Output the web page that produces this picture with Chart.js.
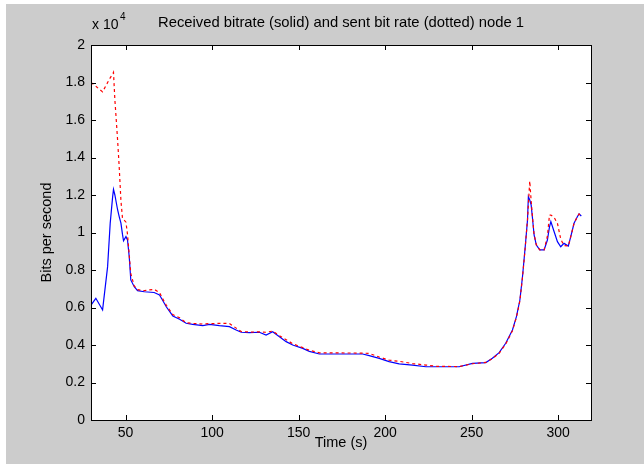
<!DOCTYPE html>
<html>
<head>
<meta charset="utf-8">
<script src="https://cdn.jsdelivr.net/npm/chart.js@4/dist/chart.umd.min.js"></script>
<style>
html,body{margin:0;padding:0;background:#fff;}
#wrap{width:644px;height:464px;position:relative;}
</style>
</head>
<body>
<div id="wrap"><canvas id="c" width="644" height="464"></canvas></div>
<script>
// ---- data (time in s, rates in bits per second) ----
const times = [30,32.8,36.7,39.6,41.1,42.5,43.0,43.8,44.6,45.4,46.3,47.3,48.2,48.8,50.2,51.1,52.1,53.0,55.0,56.9,60.8,66.5,69.6,71.3,73.5,77.3,81.2,85.0,88.8,94.6,98.5,104.2,110.0,113.9,116.8,121.6,127.3,131.2,135.0,138.9,142.8,146.6,152.4,156.2,162.0,187.0,190.8,196.6,202.3,208.1,215.8,223.6,230,242.8,250.5,258.2,262.0,265.9,269.7,273.6,275.9,277.9,279.4,280.9,282.3,282.8,283.6,284.4,285.1,286.1,287.4,289.4,291.9,293.8,295.0,295.8,297.7,299.6,301.5,303.4,305.9,307.3,309.2,311.1,312.1,313.4];
const received = [6130,6490,5870,8180,10500,11900,12300,12000,11600,11200,10850,10500,9900,9560,9780,9600,8710,7470,7110,6900,6840,6800,6670,6400,6040,5550,5370,5160,5100,5030,5100,5030,4980,4800,4680,4660,4680,4530,4710,4440,4180,4000,3820,3660,3520,3520,3430,3290,3110,2990,2930,2840,2840,2840,3020,3060,3290,3590,4090,4800,5510,6400,7640,9160,10670,11910,11730,11470,10840,9870,9330,9070,9070,9600,10300,10580,10040,9510,9240,9420,9280,9780,10490,10840,10990,10880];
const sent = [18000,17800,17500,18000,18250,18450,18540,17070,16000,14900,13500,11700,10760,10700,10550,9900,8800,7800,7150,6950,6900,6970,6800,6490,6120,5620,5450,5190,5150,5120,5140,5150,5150,4900,4720,4690,4700,4680,4740,4500,4280,4070,3860,3720,3580,3570,3550,3360,3190,3130,3010,2930,2860,2850,3000,3070,3270,3560,4050,4760,5480,6350,7600,9100,10700,11500,12750,11700,10900,9900,9350,9070,9070,9800,10930,10930,10800,10490,9650,9300,9280,9780,10490,10840,10990,10880];
const xTicks = [50,100,150,200,250,300];
const yTicks = [0,2000,4000,6000,8000,10000,12000,14000,16000,18000,20000];
const titleText = "Received bitrate (solid) and sent bit rate (dotted) node 1";
const xLabel = "Time (s)";
const yLabel = "Bits per second";

const FONT = '"Liberation Sans", Arial, sans-serif';

const framePlugin = {
  id: 'frame',
  beforeDraw(chart) {
    const ctx = chart.ctx, a = chart.chartArea;
    ctx.save();
    ctx.fillStyle = '#ffffff';
    ctx.fillRect(0, 0, chart.width, chart.height);
    ctx.fillStyle = '#cccccc';
    ctx.fillRect(6, 4, chart.width - 6, chart.height - 4);
    ctx.fillStyle = '#ffffff';
    ctx.fillRect(a.left, a.top, a.right - a.left, a.bottom - a.top);
    ctx.restore();
  },
  afterDraw(chart) {
    const ctx = chart.ctx, a = chart.chartArea;
    const xs = chart.scales.x, ys = chart.scales.y;
    ctx.save();
    ctx.strokeStyle = '#000';
    ctx.lineWidth = 1;
    ctx.strokeRect(Math.round(a.left) + 0.5, Math.round(a.top) + 0.5, Math.round(a.right - a.left), Math.round(a.bottom - a.top));
    ctx.beginPath();
    const tl = 5;
    xTicks.forEach(v => {
      const px = Math.round(xs.getPixelForValue(v)) + 0.5;
      ctx.moveTo(px, a.bottom); ctx.lineTo(px, a.bottom - tl);
      ctx.moveTo(px, a.top); ctx.lineTo(px, a.top + tl);
    });
    yTicks.forEach(v => {
      const py = Math.round(ys.getPixelForValue(v)) + 0.5;
      ctx.moveTo(a.left, py); ctx.lineTo(a.left + tl, py);
      ctx.moveTo(a.right, py); ctx.lineTo(a.right - tl, py);
    });
    ctx.stroke();
    // texts
    ctx.fillStyle = '#000';
    ctx.font = '14.8px ' + FONT;
    ctx.textAlign = 'center';
    ctx.textBaseline = 'middle';
    ctx.fillText(titleText, (a.left + a.right) / 2, 23);
    ctx.font = '14.5px ' + FONT;
    ctx.fillText(xLabel, (a.left + a.right) / 2, 443);
    ctx.save();
    ctx.translate(47, (a.top + a.bottom) / 2);
    ctx.rotate(-Math.PI / 2);
    ctx.fillText(yLabel, 0, 0);
    ctx.restore();
    ctx.textAlign = 'left';
    ctx.font = '14px ' + FONT;
    ctx.fillText('x 10', 92, 25);
    ctx.font = '10px ' + FONT;
    ctx.fillText('4', 120, 17);
    ctx.restore();
  }
};

new Chart(document.getElementById('c'), {
  type: 'line',
  data: {
    datasets: [
      {
        label: 'sent',
        data: times.map((t, i) => ({x: t, y: sent[i]})),
        borderColor: '#ff0000',
        borderWidth: 1.2,
        borderDash: [3, 3],
        pointRadius: 0,
        tension: 0,
        fill: false
      },
      {
        label: 'received',
        data: times.map((t, i) => ({x: t, y: received[i]})),
        borderColor: '#0000ff',
        borderWidth: 1.2,
        pointRadius: 0,
        tension: 0,
        fill: false
      }
    ]
  },
  options: {
    responsive: false,
    animation: false,
    devicePixelRatio: 1,
    layout: { padding: { left: 0, top: 45, right: 53, bottom: 0 } },
    plugins: { legend: { display: false }, tooltip: { enabled: false }, title: { display: false } },
    scales: {
      x: {
        type: 'linear', min: 30, max: 319,
        afterFit(s) { s.height = 44; },
        afterBuildTicks(s) { s.ticks = xTicks.map(v => ({value: v})); },
        grid: { display: false, drawTicks: false },
        border: { display: false },
        ticks: { color: '#000', padding: 5, maxRotation: 0, font: { size: 14, family: FONT }, callback: v => String(v) }
      },
      y: {
        type: 'linear', min: 0, max: 20000,
        afterFit(s) { s.width = 91; },
        afterBuildTicks(s) { s.ticks = yTicks.map(v => ({value: v})); },
        grid: { display: false, drawTicks: false },
        border: { display: false },
        ticks: { color: '#000', padding: 6, font: { size: 14, family: FONT }, callback: v => String(+(v / 10000).toFixed(1)) }
      }
    }
  },
  plugins: [framePlugin]
});
</script>
</body>
</html>
